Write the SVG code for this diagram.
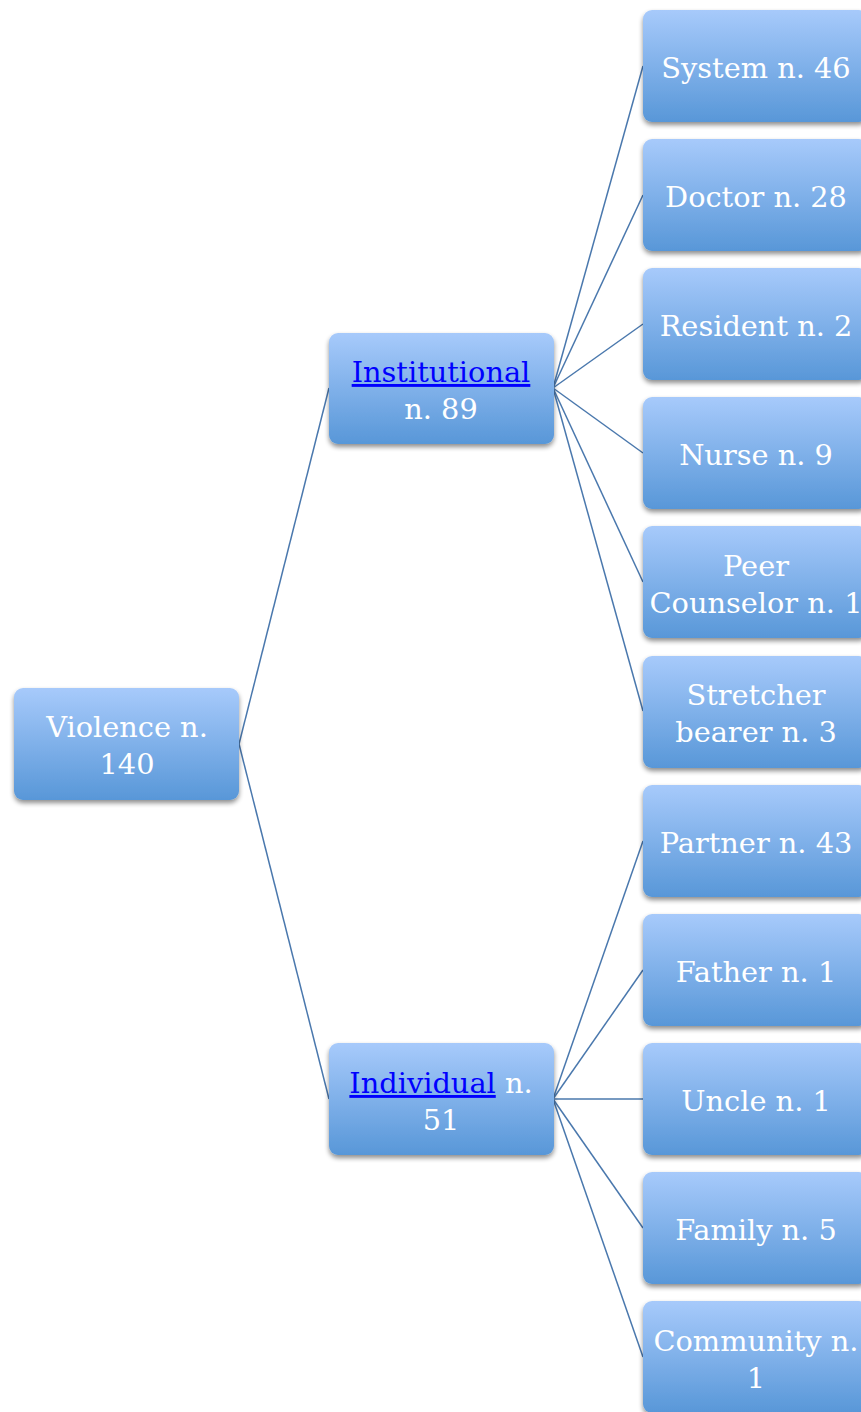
<svg xmlns="http://www.w3.org/2000/svg" width="861" height="1412" viewBox="0 0 861 1412">
  <defs>
    <linearGradient id="boxFill" x1="0" y1="0" x2="0" y2="1">
      <stop offset="0" stop-color="#a7cafb"/>
      <stop offset="1" stop-color="#5897d8"/>
    </linearGradient>
    <filter id="shadow" x="-10%" y="-10%" width="120%" height="130%">
      <feGaussianBlur in="SourceAlpha" stdDeviation="2.5"/>
      <feOffset dx="0" dy="3" result="b"/>
      <feComponentTransfer><feFuncA type="linear" slope="0.45"/></feComponentTransfer>
      <feMerge><feMergeNode/><feMergeNode in="SourceGraphic"/></feMerge>
    </filter>
  </defs>
  <style>
    .box { fill: url(#boxFill); filter: url(#shadow); }
    .lbl { font-family: "DejaVu Serif", "Liberation Serif", serif; font-size: 28.8px; fill: #ffffff; text-anchor: middle; }
    .link { fill: #0000ff; text-decoration: underline; }
    .edge { stroke: #4a78ad; stroke-width: 1.5; fill: none; }
  </style>
  <rect width="861" height="1412" fill="#ffffff"/>

  <g id="connectors">
    <line class="edge" x1="239" y1="744" x2="329" y2="388"/>
    <line class="edge" x1="239" y1="744" x2="329" y2="1099"/>
    <line class="edge" x1="553" y1="388" x2="643" y2="66"/>
    <line class="edge" x1="553" y1="388" x2="643" y2="195"/>
    <line class="edge" x1="553" y1="388" x2="643" y2="324"/>
    <line class="edge" x1="553" y1="388" x2="643" y2="453"/>
    <line class="edge" x1="553" y1="388" x2="643" y2="582"/>
    <line class="edge" x1="553" y1="388" x2="643" y2="711"/>
    <line class="edge" x1="553" y1="1099" x2="643" y2="841"/>
    <line class="edge" x1="553" y1="1099" x2="643" y2="970"/>
    <line class="edge" x1="553" y1="1099" x2="643" y2="1099"/>
    <line class="edge" x1="553" y1="1099" x2="643" y2="1228"/>
    <line class="edge" x1="553" y1="1099" x2="643" y2="1357"/>
  </g>

  <g id="violence">
    <rect class="box" x="14" y="688" width="225" height="112" rx="9"/>
    <text class="lbl" x="127" y="737">Violence n.</text>
    <text class="lbl" x="127" y="774">140</text>
  </g>

  <g id="institutional">
    <rect class="box" x="329" y="333" width="225" height="111" rx="9"/>
    <text class="lbl" x="441" y="382"><tspan class="link">Institutional</tspan></text>
    <text class="lbl" x="441" y="419">n. 89</text>
  </g>

  <g id="individual">
    <rect class="box" x="329" y="1043" width="225" height="112" rx="9"/>
    <text class="lbl" x="441" y="1093"><tspan class="link">Individual</tspan> n.</text>
    <text class="lbl" x="441" y="1130">51</text>
  </g>

  <g id="system">
    <rect class="box" x="643" y="10" width="225" height="112" rx="9"/>
    <text class="lbl" x="756" y="78">System n. 46</text>
  </g>
  <g id="doctor">
    <rect class="box" x="643" y="139" width="225" height="112" rx="9"/>
    <text class="lbl" x="756" y="207">Doctor n. 28</text>
  </g>
  <g id="resident">
    <rect class="box" x="643" y="268" width="225" height="112" rx="9"/>
    <text class="lbl" x="756" y="336">Resident n. 2</text>
  </g>
  <g id="nurse">
    <rect class="box" x="643" y="397" width="225" height="112" rx="9"/>
    <text class="lbl" x="756" y="465">Nurse n. 9</text>
  </g>
  <g id="peer-counselor">
    <rect class="box" x="643" y="526" width="225" height="112" rx="9"/>
    <text class="lbl" x="756" y="576">Peer</text>
    <text class="lbl" x="756" y="613">Counselor n. 1</text>
  </g>
  <g id="stretcher-bearer">
    <rect class="box" x="643" y="656" width="225" height="112" rx="9"/>
    <text class="lbl" x="756" y="705">Stretcher</text>
    <text class="lbl" x="756" y="742">bearer n. 3</text>
  </g>
  <g id="partner">
    <rect class="box" x="643" y="785" width="225" height="112" rx="9"/>
    <text class="lbl" x="756" y="853">Partner n. 43</text>
  </g>
  <g id="father">
    <rect class="box" x="643" y="914" width="225" height="112" rx="9"/>
    <text class="lbl" x="756" y="982">Father n. 1</text>
  </g>
  <g id="uncle">
    <rect class="box" x="643" y="1043" width="225" height="112" rx="9"/>
    <text class="lbl" x="756" y="1111">Uncle n. 1</text>
  </g>
  <g id="family">
    <rect class="box" x="643" y="1172" width="225" height="112" rx="9"/>
    <text class="lbl" x="756" y="1240">Family n. 5</text>
  </g>
  <g id="community">
    <rect class="box" x="643" y="1301" width="225" height="112" rx="9"/>
    <text class="lbl" x="756" y="1351">Community n.</text>
    <text class="lbl" x="756" y="1388">1</text>
  </g>
</svg>
